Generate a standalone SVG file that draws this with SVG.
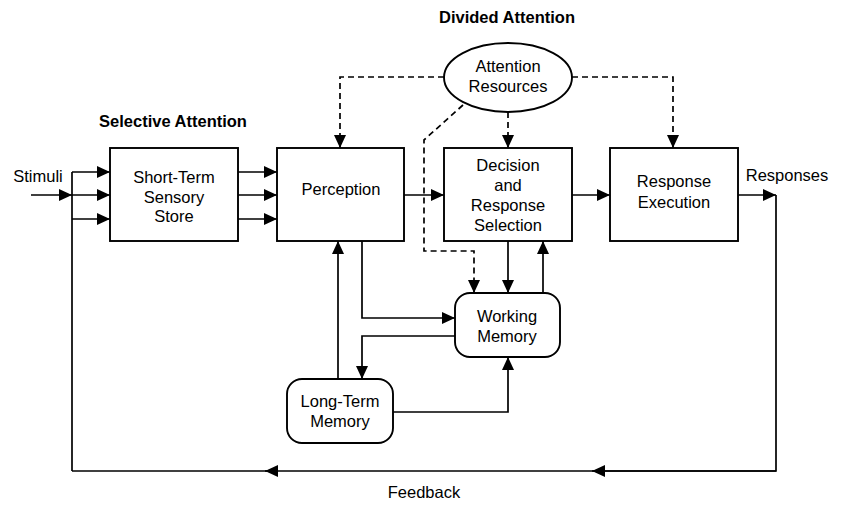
<svg xmlns="http://www.w3.org/2000/svg" width="850" height="513" viewBox="0 0 850 513">
<defs>
<marker id="arr" markerUnits="userSpaceOnUse" markerWidth="13" markerHeight="12" refX="13" refY="6" orient="auto">
<path d="M0,0 L13,6 L0,12 z" fill="#000"/>
</marker>
<style>
.box{fill:#fff;stroke:#000;stroke-width:1.9}
.t{font-family:"Liberation Sans",Arial,sans-serif;font-size:16.5px;fill:#000;text-anchor:middle}
.b{font-weight:bold;font-size:16.5px}
.l{fill:none;stroke:#000;stroke-width:1.7;marker-end:url(#arr)}
.n{fill:none;stroke:#000;stroke-width:1.7}
.d{stroke-dasharray:6,4}
</style>
</defs>
<rect width="850" height="513" fill="#fff"/>
<g id="connectors">
<path class="l" d="M31,195 H72"/>
<path class="n" d="M72,471 V172"/>
<path class="l" d="M72,172 H110"/>
<path class="l" d="M72,195 H110"/>
<path class="l" d="M72,219 H110"/>
<path class="l" d="M238,172 H277"/>
<path class="l" d="M238,195 H277"/>
<path class="l" d="M238,219 H277"/>
<path class="l" d="M404,195 H444"/>
<path class="l" d="M572,195 H610"/>
<path class="l" d="M738,195 H776"/>
<path class="n" d="M776,195 V471 H600"/>
<path class="l" d="M776,471 H592"/>
<path class="l" d="M600,471 H265"/>
<path class="n" d="M270,471 H72"/>
<path class="l d" d="M444,77 H340 V148"/>
<path class="l d" d="M572,77 H673 V148"/>
<path class="l d" d="M508,112 V148"/>
<path class="l d" d="M463,105 L424,140 V251 H474 V293"/>
<path class="l" d="M508,241 V293"/>
<path class="l" d="M543,293 V241"/>
<path class="l" d="M362,241 V318 H455"/>
<path class="l" d="M455,336 H362 V379"/>
<path class="l" d="M338,379 V241"/>
<path class="l" d="M393,412 H508 V357"/>
</g>
<g id="stss">
<rect class="box" x="110" y="148" width="128" height="93"/>
<text class="t" x="174" y="183">Short-Term</text>
<text class="t" x="174" y="203">Sensory</text>
<text class="t" x="174" y="222">Store</text>
</g>
<g id="perception">
<rect class="box" x="277" y="148" width="127" height="93"/>
<text class="t" x="341" y="195">Perception</text>
</g>
<g id="decision">
<rect class="box" x="444" y="148" width="128" height="93"/>
<text class="t" x="508" y="171">Decision</text>
<text class="t" x="508" y="191">and</text>
<text class="t" x="508" y="211">Response</text>
<text class="t" x="508" y="231">Selection</text>
</g>
<g id="execution">
<rect class="box" x="610" y="148" width="128" height="93"/>
<text class="t" x="674" y="187">Response</text>
<text class="t" x="674" y="208">Execution</text>
</g>
<g id="resources">
<ellipse class="box" cx="508" cy="77.5" rx="64" ry="34.5"/>
<text class="t" x="508" y="72">Attention</text>
<text class="t" x="508" y="92">Resources</text>
</g>
<g id="working">
<rect class="box" x="455" y="293" width="105" height="64" rx="15"/>
<text class="t" x="507" y="322">Working</text>
<text class="t" x="507" y="342">Memory</text>
</g>
<g id="longterm">
<rect class="box" x="287" y="379" width="106" height="64" rx="15"/>
<text class="t" x="340" y="407">Long-Term</text>
<text class="t" x="340" y="427">Memory</text>
</g>
<g id="labels">
<text class="t" x="38" y="182">Stimuli</text>
<text class="t" x="787" y="181">Responses</text>
<text class="t b" x="173" y="127">Selective Attention</text>
<text class="t b" x="507" y="23">Divided Attention</text>
<text class="t" x="424" y="498">Feedback</text>
</g>
</svg>
